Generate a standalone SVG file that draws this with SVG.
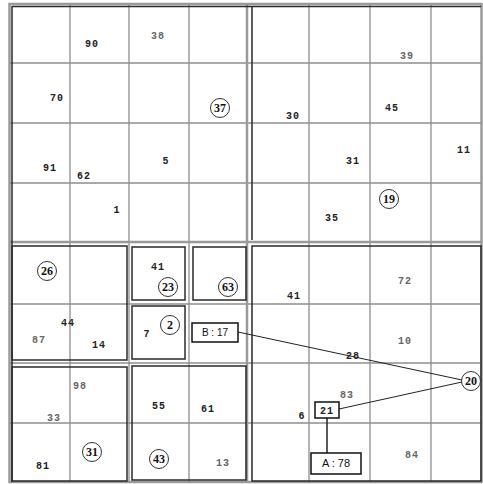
<svg xmlns="http://www.w3.org/2000/svg" width="483" height="484" viewBox="0 0 483 484">
<style>
.g{stroke:#8f8f8f;stroke-width:1.3;fill:none}
.gc{stroke:#9a9a9a;stroke-width:2.5;fill:none}
.d{stroke:#2a2a2a;stroke-width:1.5;fill:none}
.t{font-family:"Liberation Mono","DejaVu Sans Mono",monospace;font-size:10px;font-weight:bold;fill:#222;text-anchor:middle;letter-spacing:1px}
.l{fill:#666}
.c{font-family:"Liberation Serif","DejaVu Serif",serif;font-size:12px;font-weight:bold;fill:#111;text-anchor:middle}
.ci{stroke:#333;stroke-width:1;fill:none}
.bx{stroke:#111;stroke-width:1.5;fill:#fff}
.s{font-family:"Liberation Sans","DejaVu Sans",sans-serif;font-size:10px;fill:#111;text-anchor:middle}
.ln{stroke:#222;stroke-width:1;fill:none}
</style>
<rect width="483" height="484" fill="#fff"/>
<g id="grid">
<rect x="9.5" y="4" width="472" height="478" class="gc"/>
<path class="g" d="M70 5V482M129 5V482M189 5V482M309 5V482M370 5V482M431 5V482M10 63H481M10 123H481M10 183H481M10 304H481M10 363H481M10 423H481"/>
<path class="gc" d="M247 5V482M10 242H481"/>
<path class="d" d="M12 6.5H481M12 6V482M252 6V240"/>
<rect x="252" y="246" width="229" height="235" class="d"/>
<rect x="12" y="246" width="115" height="114" class="d"/>
<rect x="12" y="367" width="115" height="114" class="d"/>
<rect x="132" y="247" width="53" height="53" class="d"/>
<rect x="193" y="247" width="53" height="53" class="d"/>
<rect x="132" y="306" width="53" height="53" class="d"/>
<rect x="132" y="366" width="114" height="114" class="d"/>
</g>
<g id="connectors">
<path class="ln" d="M238 332L462 380"/>
<path class="ln" d="M339 409L462 382"/>
<path class="ln" d="M327 418V453" style="stroke-width:1.5"/>
</g>
<g id="numbers">
<text class="t" x="92" y="47">90</text>
<text class="t l" x="158" y="39">38</text>
<text class="t" x="57" y="101">70</text>
<text class="t" x="50" y="171">91</text>
<text class="t" x="84" y="179">62</text>
<text class="t" x="166" y="164">5</text>
<text class="t" x="117" y="213">1</text>
<text class="t l" x="407" y="59">39</text>
<text class="t" x="293" y="119">30</text>
<text class="t" x="392" y="111">45</text>
<text class="t" x="353" y="164">31</text>
<text class="t" x="464" y="153">11</text>
<text class="t" x="332" y="221">35</text>
<text class="t" x="158" y="270">41</text>
<text class="t" x="68" y="326">44</text>
<text class="t l" x="39" y="343">87</text>
<text class="t" x="99" y="348">14</text>
<text class="t" x="147" y="337">7</text>
<text class="t l" x="80" y="389">98</text>
<text class="t l" x="54" y="421">33</text>
<text class="t" x="159" y="409">55</text>
<text class="t" x="208" y="412">61</text>
<text class="t" x="43" y="469">81</text>
<text class="t l" x="223" y="466">13</text>
<text class="t" x="294" y="299">41</text>
<text class="t l" x="405" y="284">72</text>
<text class="t l" x="405" y="344">10</text>
<text class="t" x="353" y="359">28</text>
<text class="t l" x="347" y="398">83</text>
<text class="t" x="302" y="419">6</text>
<text class="t l" x="412" y="458">84</text>
</g>
<g id="circled">
<g id="n37"><circle cx="220" cy="108" r="9.5" class="ci"/><text class="c" x="220" y="112">37</text></g>
<g id="n19"><circle cx="389" cy="199" r="9.5" class="ci"/><text class="c" x="389" y="203">19</text></g>
<g id="n26"><circle cx="47" cy="271" r="9.5" class="ci"/><text class="c" x="47" y="275">26</text></g>
<g id="n23"><circle cx="168" cy="287" r="9.5" class="ci"/><text class="c" x="168" y="291">23</text></g>
<g id="n63"><circle cx="228" cy="287" r="9.5" class="ci"/><text class="c" x="228" y="291">63</text></g>
<g id="n2"><circle cx="170" cy="325" r="9.5" class="ci"/><text class="c" x="170" y="329">2</text></g>
<g id="n31"><circle cx="92" cy="452" r="9.5" class="ci"/><text class="c" x="92" y="456">31</text></g>
<g id="n43"><circle cx="159" cy="459" r="9.5" class="ci"/><text class="c" x="159" y="463">43</text></g>
<g id="n20"><circle cx="471" cy="381" r="9.5" class="ci" style="fill:#fff"/><text class="c" x="471" y="385">20</text></g>
</g>
<g id="B17"><rect x="192" y="323" width="46" height="19" class="bx"/><text class="s" x="215" y="336">B : 17</text></g>
<g id="n21"><rect x="315" y="402" width="24" height="16" class="bx"/><text class="t" x="327" y="414">21</text></g>
<g id="A78"><rect x="311" y="453" width="50" height="21" class="bx"/><text class="s" x="336" y="467" style="font-size:11px">A : 78</text></g>
</svg>
